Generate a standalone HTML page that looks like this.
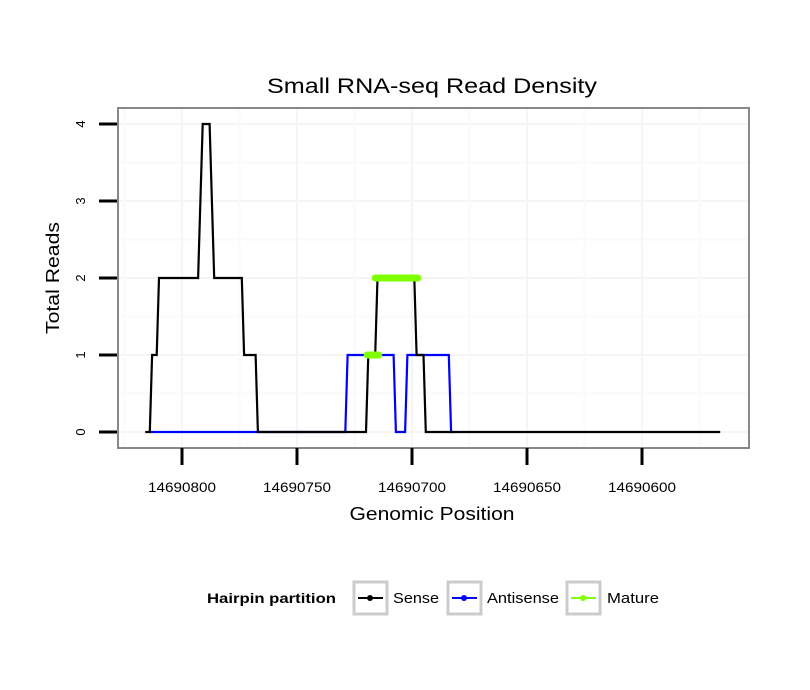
<!DOCTYPE html>
<html><head><meta charset="utf-8"><style>
body{margin:0;background:#fff;}
svg{display:block;font-family:"Liberation Sans",sans-serif;}
</style></head><body>
<svg width="810" height="690" id="chart">
<text x="432" y="93" text-anchor="middle" font-size="21" textLength="330" lengthAdjust="spacingAndGlyphs" fill="#000">Small RNA-seq Read Density</text>
<g id="grid"></g>
<g id="series"></g>
<rect x="118" y="108" width="631" height="340" fill="none" stroke="#888" stroke-width="2"/>
<g id="axes"></g>
<text x="432" y="520" text-anchor="middle" font-size="18" textLength="165" lengthAdjust="spacingAndGlyphs">Genomic Position</text>
<text transform="translate(59,278) rotate(-90)" text-anchor="middle" font-size="18" textLength="112" lengthAdjust="spacingAndGlyphs">Total Reads</text>
<g>
<text x="207" y="603" font-size="14" font-weight="bold" textLength="129" lengthAdjust="spacingAndGlyphs">Hairpin partition</text>
<g>
<rect x="354" y="582" width="33" height="32" fill="none" stroke="#ccc" stroke-width="3"/>
<line x1="358" y1="598" x2="383" y2="598" stroke="#000" stroke-width="2"/><circle cx="370" cy="598" r="3" fill="#000"/>
<text x="393" y="603" font-size="15" textLength="46" lengthAdjust="spacingAndGlyphs">Sense</text></g>
<g>
<rect x="448" y="582" width="33" height="32" fill="none" stroke="#ccc" stroke-width="3"/>
<line x1="452" y1="598" x2="477" y2="598" stroke="#00f" stroke-width="2"/><circle cx="464" cy="598" r="3" fill="#00f"/>
<text x="487" y="603" font-size="15" textLength="72" lengthAdjust="spacingAndGlyphs">Antisense</text></g>
<g>
<rect x="567" y="582" width="33" height="32" fill="none" stroke="#ccc" stroke-width="3"/>
<line x1="571" y1="598" x2="596" y2="598" stroke="#7fff00" stroke-width="2"/><circle cx="583" cy="598" r="3" fill="#7fff00"/>
<text x="607" y="603" font-size="15" textLength="52" lengthAdjust="spacingAndGlyphs">Mature</text></g>
</g>
</svg>
<script>
const xTicks=[14690800,14690750,14690700,14690650,14690600];
const yTicks=[0,1,2,3,4];
const senseX=[14690816,14690814,14690813,14690811,14690810,14690793,14690791,14690788,14690786,14690774,14690773,14690768,14690767,14690720,14690719,14690716,14690715,14690699,14690698,14690695,14690694,14690566];
const senseY=[0,0,1,1,2,2,4,4,2,2,1,1,0,0,1,1,2,2,1,1,0,0];
const antiX=[14690814,14690767,14690729,14690728,14690708,14690707,14690703,14690702,14690684,14690683,14690682];
const antiY=[0,0,0,1,1,0,0,1,1,0,0];
const matureSegX=[[14690719.5,14690714.5],[14690716,14690697.5]];
const matureSegY=[1,2];
const NS="http://www.w3.org/2000/svg";
function sx(v){return 182+(14690800-v)*2.3;}
function sy(v){return 432-v*77;}
function mk(tag,attrs,parent){const e=document.createElementNS(NS,tag);for(const k in attrs)e.setAttribute(k,attrs[k]);parent.appendChild(e);return e;}
const grid=document.getElementById('grid'),axes=document.getElementById('axes'),ser=document.getElementById('series');
for(let i=0;i<yTicks.length;i++){
 const y=sy(yTicks[i]);
 const g=mk('line',{x1:119,x2:748,y1:y,y2:y,stroke:'#f5f5f5','stroke-width':2},grid);
 
 
 if(i<yTicks.length-1){const m=sy(yTicks[i]+0.5);mk('line',{x1:119,x2:748,y1:m,y2:m,stroke:'#fafafa','stroke-width':2},grid);}
 const t=mk('line',{x1:99,x2:117,y1:y,y2:y,stroke:'#000','stroke-width':3},axes);
 
 
 const l=mk('text',{transform:`translate(85,${y}) rotate(-90)`,'text-anchor':'middle','font-size':13},axes);
 l.textContent=yTicks[i];
 
 
}
for(let i=0;i<xTicks.length;i++){
 const x=sx(xTicks[i]);
 const g=mk('line',{x1:x,x2:x,y1:109,y2:447,stroke:'#f5f5f5','stroke-width':2},grid);
 
 
 const mx=sx(xTicks[i]+25);mk('line',{x1:mx,x2:mx,y1:109,y2:447,stroke:'#fafafa','stroke-width':2},grid);
 const t=mk('line',{x1:x,x2:x,y1:448,y2:465,stroke:'#000','stroke-width':3},axes);
 
 
 const l=mk('text',{x:x,y:492,'text-anchor':'middle','font-size':14,textLength:68,lengthAdjust:'spacingAndGlyphs'},axes);
 l.textContent=xTicks[i];
 
 
}
{const mx=sx(14690575);mk('line',{x1:mx,x2:mx,y1:109,y2:447,stroke:'#fafafa','stroke-width':2},grid);}
function line(xs,ys,color,name){
 const p=mk('polyline',{points:xs.map((v,i)=>sx(v)+','+sy(ys[i])).join(' '),fill:'none',stroke:color,'stroke-width':2.2},ser);
 
 
}
line(antiX,antiY,'#0000ff','antisense-line');
line(senseX,senseY,'#000000','sense-line');
for(let i=0;i<matureSegX.length;i++){
 const s=mk('line',{x1:sx(matureSegX[i][0]),x2:sx(matureSegX[i][1]),y1:sy(matureSegY[i]),y2:sy(matureSegY[i]),stroke:'#7fff00','stroke-width':7,'stroke-linecap':'round'},ser);
 
 
}
</script>
</body></html>
